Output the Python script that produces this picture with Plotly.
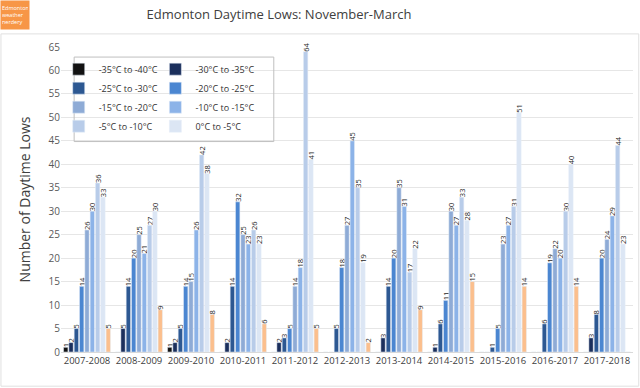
import plotly.graph_objects as go

seasons = ["2007-2008", "2008-2009", "2009-2010", "2010-2011", "2011-2012",
           "2012-2013", "2013-2014", "2014-2015", "2015-2016", "2016-2017", "2017-2018"]

r35_40 = [1, 0, 1, 0, 0, 0, 0, 0, 0, 0, 0]
r30_35 = [2, 5, 2, 2, 2, 0, 3, 1, 0, 0, 3]
r25_30 = [5, 14, 5, 14, 3, 5, 14, 6, 1, 6, 8]
r20_25 = [14, 20, 14, 32, 5, 18, 20, 11, 5, 19, 20]
r15_20 = [26, 25, 15, 25, 14, 27, 35, 30, 23, 22, 24]
r10_15 = [30, 21, 26, 23, 18, 45, 31, 27, 27, 20, 29]
r5_10 = [36, 27, 42, 26, 64, 35, 17, 33, 31, 30, 44]
r0_5 = [33, 30, 38, 23, 41, 19, 22, 28, 51, 40, 23]
above0 = [5, 9, 8, 6, 5, 2, 9, 15, 14, 14, 0]

series = [
    ("-35°C to -40°C", r35_40, "#121212", "legend"),
    ("-30°C to -35°C", r30_35, "#1b2f5c", "legend2"),
    ("-25°C to -30°C", r25_30, "#2d5892", "legend"),
    ("-20°C to -25°C", r20_25, "#4b86d1", "legend2"),
    ("-15°C to -20°C", r15_20, "#8eabd6", "legend"),
    ("-10°C to -15°C", r10_15, "#8cb3e8", "legend2"),
    ("-5°C to -10°C", r5_10, "#b8cce9", "legend"),
    ("0°C to -5°C", r0_5, "#dce6f4", "legend2"),
]

font_family = "Open Sans, Noto Sans, sans-serif"

fig = go.Figure()
for name, vals, color, lg in series:
    fig.add_trace(go.Bar(
        name=name, x=seasons, y=vals, marker_color=color, legend=lg,
        text=[str(v) if v else "" for v in vals], textposition="outside",
        textangle=-90, constraintext="none", cliponaxis=False,
        textfont=dict(size=7.5, color="#262626", family=font_family),
    ))
fig.add_trace(go.Bar(
    name="Above 0°C", x=seasons, y=above0, marker_color="#fbbf8d", showlegend=False,
    text=[str(v) if v else "" for v in above0], textposition="outside",
    textangle=-90, constraintext="none", cliponaxis=False,
    textfont=dict(size=7.5, color="#262626", family=font_family),
))

legend_common = dict(
    bgcolor="rgba(0,0,0,0)", font=dict(size=9, color="#333333", family=font_family),
    itemwidth=30, tracegroupgap=0, xanchor="left", yanchor="top",
)

fig.update_layout(
    width=640, height=388,
    margin=dict(l=61, r=7, t=47, b=36),
    paper_bgcolor="white", plot_bgcolor="white",
    barmode="group", bargap=0.08, bargroupgap=0.18,
    font=dict(family=font_family, color="#404040"),
    title=dict(text="Edmonton Daytime Lows: November-March", x=0.436, xanchor="center",
               y=0.962, yanchor="middle", font=dict(size=13, color="#404040")),
    xaxis=dict(showgrid=False, showline=True, linecolor="#d9d9d9", ticks="",
               tickangle=0, tickfont=dict(size=9.5, color="#404040")),
    yaxis=dict(range=[0, 65], dtick=5, showgrid=True, gridcolor="#e6e6e6",
               zeroline=False, ticks="", tickfont=dict(size=10, color="#595959"),
               title=dict(text="Number of Daytime Lows", font=dict(size=14, color="#404040"),
                          standoff=14)),
    legend=dict(x=-0.004, y=0.975, **legend_common),
    legend2=dict(x=0.165, y=0.975, **legend_common),
    shapes=[
        dict(type="rect", xref="paper", yref="paper", x0=0.023, x1=0.372, y0=0.69, y1=0.967,
             line=dict(color="#bfbfbf", width=1), fillcolor="rgba(0,0,0,0)"),
        dict(type="rect", xref="paper", yref="paper", x0=-0.105, x1=1.01, y0=-0.112, y1=1.043,
             line=dict(color="#e0e0e0", width=1), fillcolor="rgba(0,0,0,0)", layer="below"),
    ],
    annotations=[
        dict(text="Edmonton<br>weather<br>nerdery", xref="paper", yref="paper",
             x=-0.1066, y=1.154, xanchor="left", yanchor="top", showarrow=False,
             bgcolor="#f79646", width=26, height=26, align="left",
             font=dict(size=5.5, color="white", family=font_family)),
    ],
)

fig.write_html("out.html", config={"displayModeBar": False},
               post_script="document.body.style.margin='0';")
